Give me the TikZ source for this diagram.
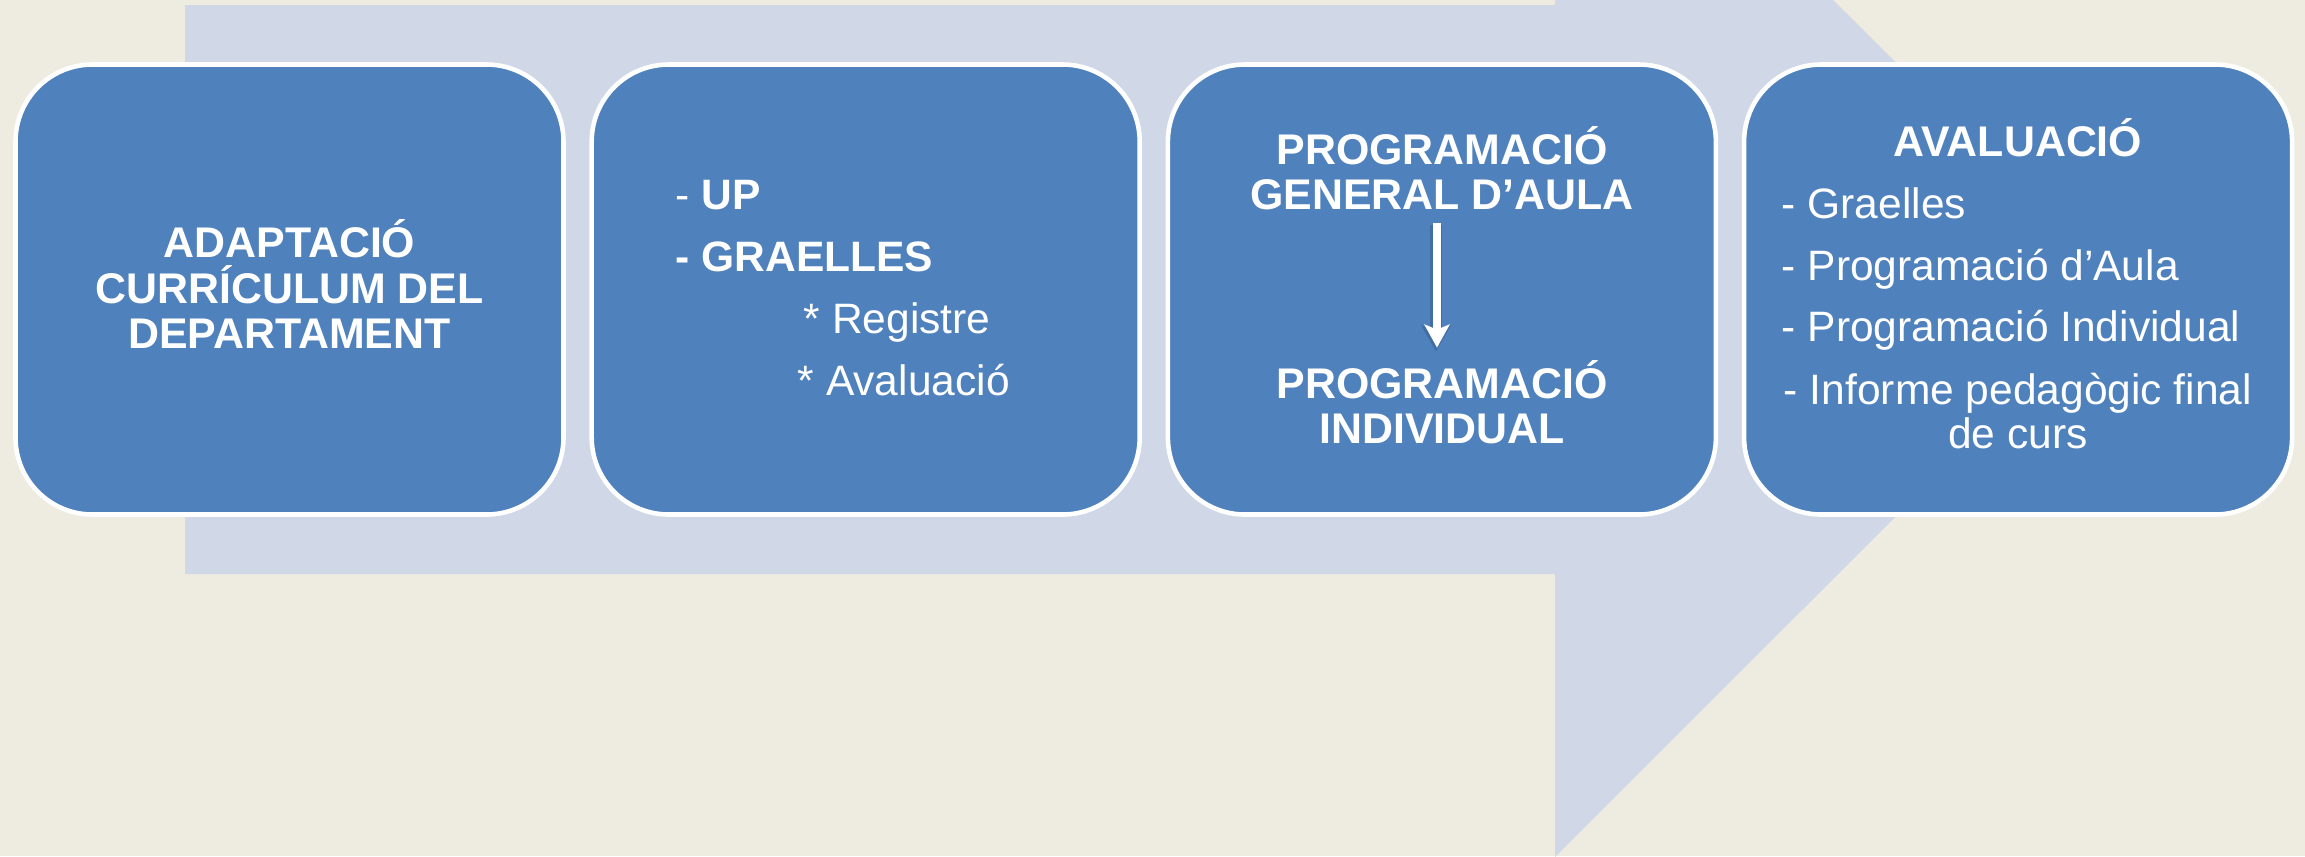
\documentclass[tikz,border=0pt]{standalone}
\usepackage{fontspec}
\setmainfont{Liberation Sans}
\usetikzlibrary{arrows.meta}

\definecolor{fons}{HTML}{EEECE1}
\definecolor{fletxa}{HTML}{D0D8E8}
\definecolor{blau}{HTML}{4F81BD}
\definecolor{ombra}{HTML}{2C4D75}

\tikzset{
  caixa/.style={draw=white, line width=1.3pt, fill=blau, rounded corners=0.77cm,
    minimum width=5.48cm, minimum height=4.50cm, inner sep=0pt},
  titol/.style={text=white, font=\bfseries\fontsize{12.2pt}{13pt}\selectfont, align=center, inner sep=0pt},
  prog/.style={text=white, font=\bfseries\fontsize{12.2pt}{12.8pt}\selectfont, align=center, inner sep=0pt},
  llista/.style={text=white, font=\fontsize{12.1pt}{17.6pt}\selectfont, align=left, inner sep=0pt},
  items/.style={text=white, font=\fontsize{12.1pt}{17.5pt}\selectfont, align=left, inner sep=0pt},
  paragraf/.style={text=white, font=\fontsize{12.1pt}{12.6pt}\selectfont, align=center, inner sep=0pt},
  baixa/.style={draw=white, line width=2.3pt, -{Stealth[length=0.23cm,width=0.25cm,inset=0.05cm]}},
  baixaombra/.style={draw=ombra, opacity=0.35, line width=3.2pt, -{Stealth[length=0.26cm,width=0.29cm,inset=0.05cm]}}
}

\begin{document}
\begin{tikzpicture}

\useasboundingbox (0,0) rectangle (23.05,-8.56);
\clip (0,0) rectangle (23.05,-8.56);
\fill [fons] (0,0) rectangle (23.05,-8.56);

% big arrow behind the boxes
\fill [fletxa] (1.85,-0.05) -- (15.55,-0.05) -- (15.55,2.78) -- (21.23,-2.895)
   -- (15.55,-8.57) -- (15.55,-5.74) -- (1.85,-5.74) -- cycle;

% the four boxes
\draw (2.895,-2.895) node[caixa] (pas1) {};
\draw (8.657,-2.895) node[caixa] (pas2) {};
\draw (14.419,-2.895) node[caixa] (pas3) {};
\draw (20.181,-2.895) node[caixa] (pas4) {};

% box 1
\draw (2.895,-2.84) node[titol] (adapt) {ADAPTACIÓ\\CURRÍCULUM DEL\\DEPARTAMENT};

% box 2
\draw (6.75,-1.80) node[llista, anchor=north west] (graelles)
   {- \textbf{UP}\\\textbf{- GRAELLES}\\\hspace*{1.28cm}* Registre\\\hspace*{1.22cm}* Avaluació};

% box 3
\draw (14.42,-1.68) node[prog] (general) {PROGRAMACIÓ\\GENERAL D’AULA};
\draw (14.42,-4.02) node[prog] (indiv) {PROGRAMACIÓ\\INDIVIDUAL};
\draw [baixaombra, shorten <=0.13cm, shorten >=0.10cm] ([xshift=-0.06cm,yshift=-0.02cm]general.south) -- ([xshift=-0.06cm,yshift=-0.02cm]indiv.north);
\draw [baixa, shorten <=0.13cm, shorten >=0.12cm] ([xshift=-0.05cm]general.south) -- ([xshift=-0.05cm]indiv.north);

% box 4
\draw (20.18,-1.56) node[titol, anchor=base] (aval) {AVALUACIÓ};
\draw (17.81,-1.87) node[items, anchor=north west] (eines) {- Graelles\\- Programació d’Aula\\- Programació Individual};
\draw (20.18,-3.72) node[paragraf, anchor=north] (informe) {- Informe pedagògic final\\de curs};

\end{tikzpicture}
\end{document}
